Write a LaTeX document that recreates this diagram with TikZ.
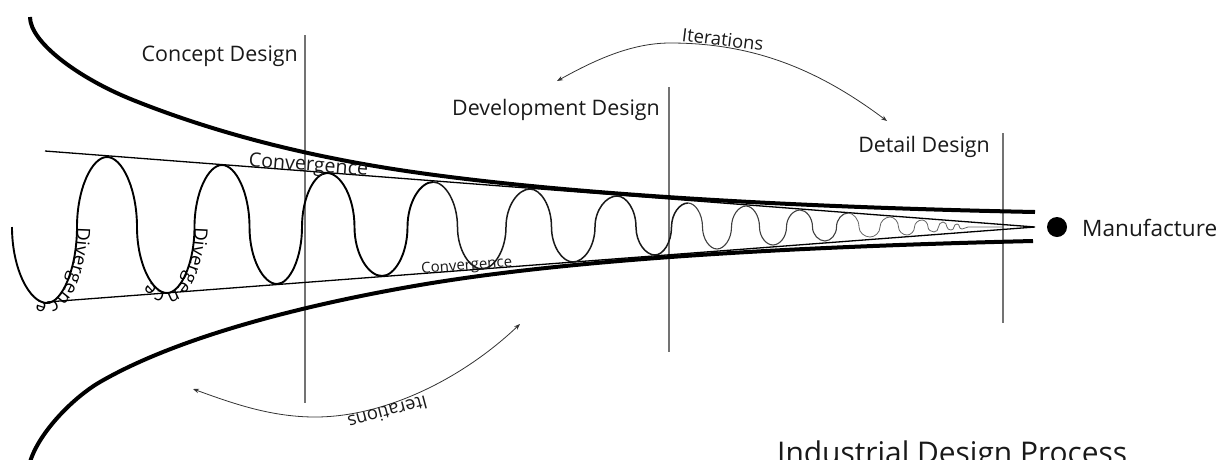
\documentclass[tikz,border=0pt]{standalone}
\usepackage{fontspec}
\setmainfont{Open Sans}
\usetikzlibrary{arrows.meta,decorations.text}
\newcommand\fsz[1]{\fontsize{#1}{#1}\selectfont}
\newcommand\divfont{\fsz{18.5}}
\newcommand\wvA{0.5}
\newcommand\wvB{0.55}
% half wave from extremum (#1,#2) to extremum (#3,#4) through the mid line y=227
\newcommand\hw[4]{ .. controls ({#1+\wvA*(#3-#1)/2},#2) and ({(#1+#3)/2},{227+\wvB*(#2-227)}) .. ({(#1+#3)/2},227)
 .. controls ({(#1+#3)/2},{227+\wvB*(#4-227)}) and ({#3-\wvA*(#3-#1)/2},#4) .. (#3,#4)}
\begin{document}
\begin{tikzpicture}[x=1pt,y=-1pt,
  funnel/.style={line width=4pt},
  conv/.style={line width=1.3pt},
  stage/.style={line width=1.1pt, draw=black!55},
  waveA/.style={line width=1.9pt},
  waveB/.style={line width=1.5pt, draw=black!90},
  waveC/.style={line width=1.1pt, draw=black!75},
  waveD/.style={line width=0.8pt, draw=black!60},
  lbl/.style={inner sep=0pt, font=\fsz{21.4}, text=black!90},
  itlbl/.style={inner sep=0pt, font=\fsz{18.4}, text=black!90},
  iter/.style={line width=0.8pt, draw=black!80,
    {Stealth[length=6pt,width=4.5pt]}-{Stealth[length=6pt,width=4.5pt]}}]
\useasboundingbox (0,0) rectangle (1218,459);
\clip (0,0) rectangle (1218,459);

% stage separators
\draw[stage] (305,35) -- (305,403);
\draw[stage] (669,87) -- (669,352);
\draw[stage] (1003,133) -- (1003,323);

% funnel
\draw[funnel] (30,17) .. controls (30,42) and (78,78) .. (133,100)
  .. controls (223,136) and (320,159) .. (420,173)
  .. controls (570,194) and (785,207) .. (1035,212);
\draw[funnel] (30,462) .. controls (39,432) and (74,397) .. (100,382)
  .. controls (180,335.6) and (310,303.7) .. (420,285)
  .. controls (570,259.5) and (783,247) .. (1033,241);

% convergence lines
\coordinate (ctop) at (45,151);
\coordinate (cbot) at (47,302);
\coordinate (apex) at (1035,227);
\draw[conv] (ctop) -- (apex) -- (cbot);

% wave
\draw[waveA] (12,227) .. controls (12,{227+\wvB*76}) and ({47-\wvA*35},303) .. (47,303)
  \hw{47}{303}{107}{157} \hw{107}{157}{167}{293} \hw{167}{293}{222}{165}
  \hw{222}{165}{277}{284} \hw{277}{284}{327}{173} \hw{327}{173}{382}{276}
  \hw{382}{276}{433}{182};
\draw[waveB] (433,182) \hw{433}{182}{482}{269} \hw{482}{269}{530}{189}
  \hw{530}{189}{573}{262} \hw{573}{262}{617}{196} \hw{617}{196}{655}{255}
  \hw{655}{255}{688}{203};
\draw[waveC] (688,203) \hw{688}{203}{717}{249} \hw{717}{249}{746}{206}
  \hw{746}{206}{773}{245} \hw{773}{245}{800}{210} \hw{800}{210}{825}{241}
  \hw{825}{241}{848}{213};
\draw[waveD] (848,213) \hw{848}{213}{870}{237} \hw{870}{237}{890}{217}
  \hw{890}{217}{907}{235} \hw{907}{235}{922}{220} \hw{922}{220}{934}{232}
  \hw{934}{232}{943}{222} \hw{943}{222}{951}{230} \hw{951}{230}{957}{224}
  \hw{957}{224}{962}{229}
  .. controls (964,229) and (966,227) .. (968,227) -- (1003,227);

% divergence labels along the wave
\path[decorate, decoration={text along path, text={|\divfont|Divergence}, text align=left}]
  (77,227) .. controls (77,{227+\wvB*76}) and ({47+\wvA*30},303) .. (47,303)
  .. controls ({47-\wvA*35},303) and (12,{227+\wvB*76}) .. (12,227);
\path[decorate, decoration={text along path, text={|\divfont|Divergence}, text align=left}]
  (194.5,227) .. controls (194.5,{227+\wvB*66}) and ({167+\wvA*27.5},293) .. (167,293)
  .. controls ({167-\wvA*30},293) and (137,{227+\wvB*66}) .. (137,227);

% convergence labels
\node[lbl, font=\fsz{19.7}, anchor=base, rotate=-4.4] (convT) at (308,171) {Convergence};
\node[lbl, font=\fsz{15}, anchor=base, rotate=4.3] (convB) at (467,270) {Convergence};

% stage labels
\node[lbl, anchor=base east] (concept) at (298,61) {Concept Design};
\node[lbl, anchor=base east] (develop) at (660,115) {Development Design};
\node[lbl, anchor=base east] (detail) at (990,152) {Detail Design};

% manufacture
\node[circle, fill=black, minimum size=20pt, inner sep=0pt] (mfgdot) at (1057,227) {};
\node[lbl, font=\fsz{22.6}, anchor=base west] (mfg) at (1082,236) {Manufacture};

% iterations arcs
\coordinate (itA) at (557,81);
\coordinate (itTop) at (670,43);
\coordinate (itB) at (887,121);
\draw[iter] (itA) .. controls (592,61.6) and (630,43) .. (itTop)
  .. controls (750,43) and (815,67) .. (itB);
\node[itlbl, anchor=base, rotate=-7] (iterT) at (722,46) {Iterations};

\coordinate (itC) at (193,389);
\coordinate (itBot) at (315,417);
\coordinate (itD) at (520,324);
\draw[iter] (itC) .. controls (230.6,402.6) and (270,417) .. (itBot)
  .. controls (385,417) and (462,379) .. (itD);
\node[itlbl, anchor=base, rotate=195] (iterB) at (386,406) {Iterations};

% title
\node[lbl, font=\fsz{29.9}, anchor=base west] (title) at (777,463.5) {Industrial Design Process};
\end{tikzpicture}
\end{document}
